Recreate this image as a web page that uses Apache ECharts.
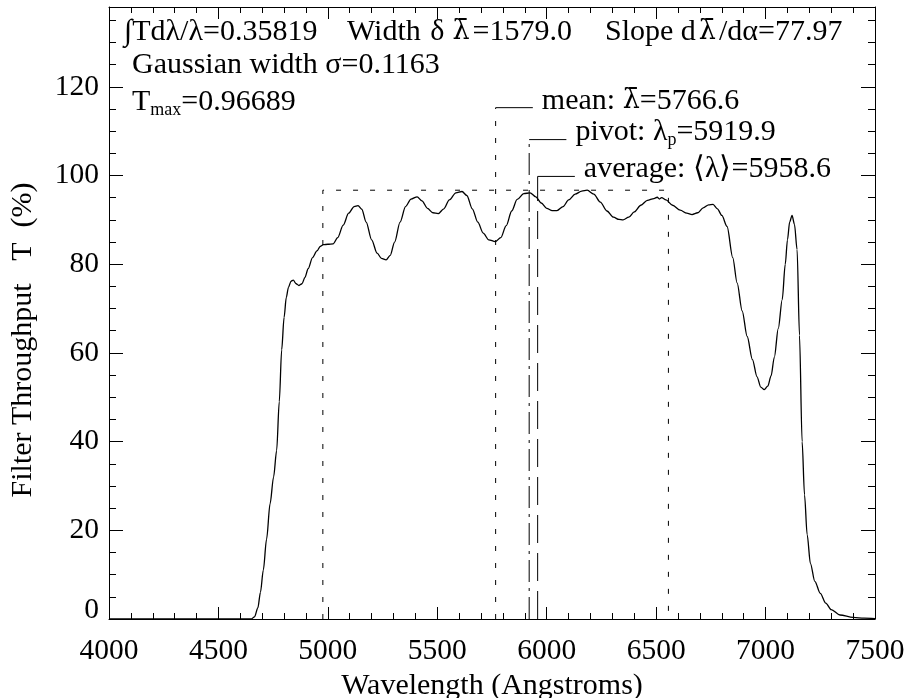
<!DOCTYPE html>
<html><head><meta charset="utf-8">
<script src="https://cdn.jsdelivr.net/npm/echarts@6/dist/echarts.min.js"></script>
<style>html,body{margin:0;padding:0;background:#fff}#c{width:908px;height:698px}</style>
</head><body><div id="c"></div>
<script>
// ---- data ----
const wavelength = [4000,4600,4650,4665,4680,4692,4705,4720,4736,4752,4766,4778,4789,4800,4810,4820,4832,4842,4855,4868,4882,4895,4910,4930,4950,4965,4980,5000,5024,5045,5070,5095,5120,5138,5155,5175,5200,5225,5245,5266,5285,5305,5330,5355,5380,5408,5430,5455,5480,5504,5530,5555,5585,5613,5635,5660,5685,5710,5735,5765,5790,5815,5840,5865,5895,5924,5950,5975,6000,6025,6047,6075,6100,6130,6160,6185,6215,6245,6275,6305,6330,6349,6375,6400,6430,6460,6490,6505,6515,6525,6545,6575,6610,6640,6664,6690,6715,6740,6760,6780,6800,6824,6850,6870,6893,6916,6940,6961,6978,6994,7010,7025,7040,7058,7076,7090,7100,7110,7121,7132,7144,7155,7167,7178,7190,7205,7225,7250,7275,7300,7340,7400,7450,7500];
const throughput = [0,0,0,0.5,2.5,6,11,18,26,32,38,49,60.7,68,72.5,74.8,76.2,76.4,75.6,75.2,75.6,77,79,81.5,83,84,84.4,84.5,84.6,86,88.8,91.5,93,93.2,92.4,89.5,85.5,82.5,81.3,81,82,85,89.5,93,94.7,95.2,94.3,92.6,91.6,91.4,92.5,94.5,96.1,96.4,95.5,92.5,89.5,87,85.5,85.1,86,88.7,92,94.6,95.9,96.1,95.2,93.8,92.6,92.1,92.1,93,94.5,95.8,96.5,96.69,95.8,94,92,90.6,90.1,90,90.6,91.8,93.3,94.4,94.8,95.1,94.7,95,94.5,93.3,92.2,91.5,91.2,91.6,92.7,93.4,93.5,92.5,91,88.5,81.5,75.8,69.5,63.7,58.5,54.6,52.3,51.7,52.5,54.8,59,65.5,72,80,85.5,89.5,91,89,83.3,64,40,28,19,12.5,8.5,5.8,3.6,2.1,0.9,0.35,0.2,0.1];

const meanLambda = 5766.6;
const pivotLambda = 5919.9;
const averageLambda = 5958.6;
const widthLambda = 1579.0;
const tMaxPercent = 96.689;
const tMax = 0.96689;
const intTdl = 0.35819;
const slope = 77.97;
const gaussSigma = 0.1163;
// heights (in %) where the marker lines end and their labels sit
const meanLabelLevel = 115.3;
const pivotLabelLevel = 108.1;
const averageLabelLevel = 99.8;
const leaderLength = 170; // Angstroms

const xRange = [4000, 7500];
const yRange = [0, 138];
const xMajor = 500;
const yMajor = 20;
const yMinor = 5;

// ---- chart ----
const FONT = "'Liberation Serif','Times New Roman',serif";
const GREEK = "'DejaVu Serif',serif";
const black = '#000';
const LBAR = '\u03BB\u0304';
const chart = echarts.init(document.getElementById('c'), null, {renderer: 'canvas'});

const curve = wavelength.map((w, i) => [w, throughput[i]]);
const lo = meanLambda - widthLambda / 2, hi = meanLambda + widthLambda / 2;

const richBase = {
  t: {fontFamily: FONT, fontSize: 30, color: black, lineHeight: 34},
  g: {fontFamily: GREEK, fontSize: 27, color: black, lineHeight: 34},
  gp: {fontFamily: GREEK, fontSize: 27, color: black, lineHeight: 34, padding: [0, 3, 0, 3]},
  d: {fontFamily: FONT, fontSize: 30, color: black, lineHeight: 34, padding: [0, 5, 0, 2]},
  s: {fontFamily: FONT, fontSize: 18, color: black, lineHeight: 18, padding: [16, 0, 0, 0]}
};

function baseX(pos, labels) {
  return {
    type: 'value', position: pos, min: xRange[0], max: xRange[1], interval: xMajor,
    axisLine: {show: true, onZero: false, lineStyle: {color: black, width: 1}},
    axisTick: {show: true, inside: true, length: 12, lineStyle: {color: black, width: 1}},
    minorTick: {show: true, splitNumber: 5, length: 6, lineStyle: {color: black, width: 1}},
    axisLabel: {show: labels, fontFamily: FONT, fontSize: 29.5, color: black, margin: 17,
      formatter: v => String(v)},
    splitLine: {show: false}, minorSplitLine: {show: false},
    name: labels ? 'Wavelength (Angstroms)' : '', nameLocation: 'middle', nameGap: 47,
    nameTextStyle: {fontFamily: FONT, fontSize: 30, color: black}
  };
}
function baseY(pos, major, labels) {
  return {
    type: 'value', position: pos, min: yRange[0], max: yRange[1], interval: major ? yMajor : yMinor,
    axisLine: {show: major, onZero: false, lineStyle: {color: black, width: 1}},
    axisTick: {show: true, inside: true, length: major ? 14 : 7, lineStyle: {color: black, width: 1}},
    axisLabel: {show: labels, fontFamily: FONT, fontSize: 29.5, color: black, margin: 10,
      formatter: v => (v % yMajor !== 0 ? '' : (v === 0 ? '{z|0}' : String(v))),
      rich: {z: {fontFamily: FONT, fontSize: 29.5, color: black, padding: [0, 0, 18, 0]}}},
    splitLine: {show: false}
  };
}

const dotted = [5, 12];
function lineSeries(data, dash, label) {
  const s = {
    type: 'line', data: data, xAxisIndex: 0, yAxisIndex: 0, symbol: 'none', silent: true,
    lineStyle: {color: black, width: 1, type: dash || 'solid'}, animation: false, z: 3
  };
  if (label) {
    s.endLabel = {show: true, formatter: label, fontFamily: FONT, fontSize: 30, color: black,
      distance: 9, offset: [0, -7], rich: richBase};
  }
  return s;
}

function gtext(x, y, text) {
  return {type: 'text', x: x, y: y, style: {text: text, rich: richBase, font: '30px ' + FONT, fill: black, verticalAlign: 'middle'}};
}

chart.setOption({
  animation: false,
  backgroundColor: '#fff',
  grid: {left: 109, right: 33, top: 7, bottom: 79, containLabel: false, outerBoundsMode: 'none'},
  xAxis: [baseX('bottom', true), baseX('top', false)],
  yAxis: [baseY('left', true, true), baseY('left', false, false), baseY('right', true, false), baseY('right', false, false)],
  series: [
    {type: 'line', data: curve, symbol: 'none', smooth: 0.3, smoothMonotone: 'x', silent: true,
     lineStyle: {color: black, width: 1.3}, z: 4},
    lineSeries([[lo, 0], [lo, tMaxPercent], [hi, tMaxPercent], [hi, 0]], dotted),
    lineSeries([[meanLambda, 0], [meanLambda, meanLabelLevel]], dotted),
    lineSeries([[meanLambda, meanLabelLevel], [meanLambda + leaderLength, meanLabelLevel]], null,
      '{t|mean: }{g|' + LBAR + '}{t|=' + meanLambda.toFixed(1) + '}'),
    lineSeries([[pivotLambda, 0], [pivotLambda, pivotLabelLevel]], [22, 6, 3, 6]),
    lineSeries([[pivotLambda, pivotLabelLevel], [pivotLambda + leaderLength, pivotLabelLevel]], null,
      '{t|pivot: \u03BB}{s|p}{t|=' + pivotLambda.toFixed(1) + '}'),
    lineSeries([[averageLambda, 0], [averageLambda, averageLabelLevel]], [28, 10]),
    lineSeries([[averageLambda, averageLabelLevel], [averageLambda + leaderLength, averageLabelLevel]], null,
      '{t|average: \u27E8\u03BB\u27E9=' + averageLambda.toFixed(1) + '}')
  ],
  graphic: [
    gtext(124, 32, '{t|\u222BTd\u03BB/\u03BB=' + intTdl.toFixed(5) + '}'),
    gtext(347, 32, '{t|Width }{d|\u03B4}{gp|' + LBAR + '}{t|=' + widthLambda.toFixed(1) + '}'),
    gtext(605, 32, '{t|Slope d}{gp|' + LBAR + '}{t|/d\u03B1=' + slope.toFixed(2) + '}'),
    gtext(132, 65, '{t|Gaussian width \u03C3=' + gaussSigma.toFixed(4) + '}'),
    gtext(132, 102, '{t|T}{s|max}{t|=' + tMax.toFixed(5) + '}'),
    {type: 'text', x: 23, y: 340, rotation: Math.PI / 2, style: {text: 'Filter Throughput   T  (%)', font: '30px ' + FONT, fill: black, align: 'center', verticalAlign: 'middle'}}
  ]
});
</script></body></html>
